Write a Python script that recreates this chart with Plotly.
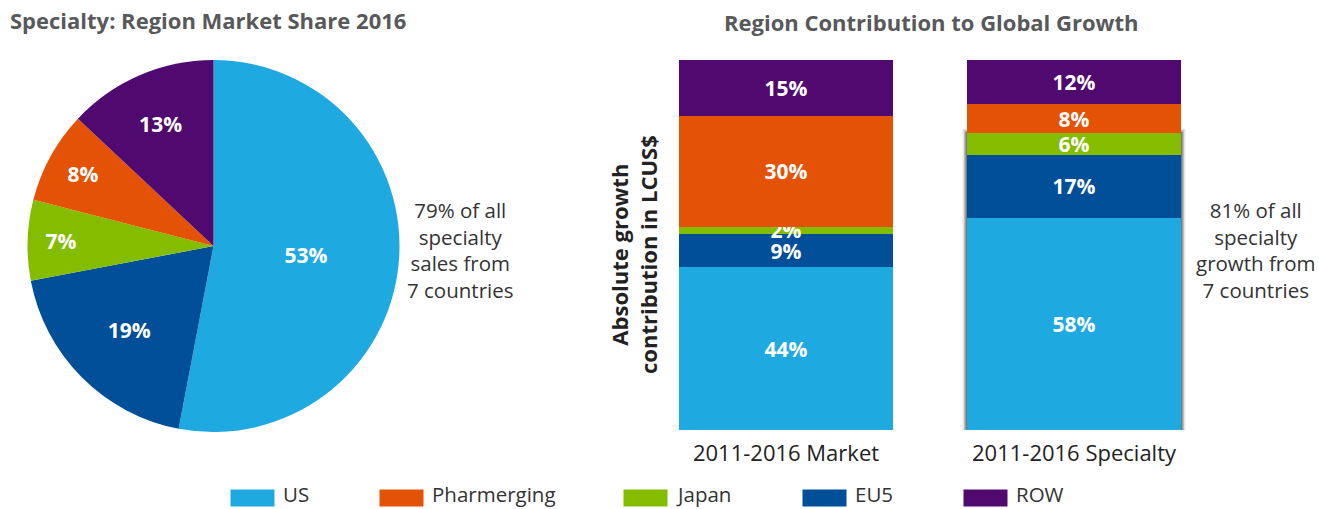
import plotly.graph_objects as go

regions = ["US", "EU5", "Japan", "Pharmerging", "ROW"]
colors = {"US": "#1FA9E1", "EU5": "#004F98", "Japan": "#84BD00",
          "Pharmerging": "#E35205", "ROW": "#500A6F"}
legend_order = ["US", "Pharmerging", "Japan", "EU5", "ROW"]

pie_share = [53, 19, 7, 8, 13]

bar_categories = ["2011-2016 Market", "2011-2016 Specialty"]
growth = {
    "US": [44, 58],
    "EU5": [9, 17],
    "Japan": [2, 6],
    "Pharmerging": [30, 8],
    "ROW": [15, 12],
}

FONT = "Open Sans"
BARGAP = 0.257
W, H = 1319, 509

# legend layout (left edge of each swatch, in page pixels)
LEGEND_SWATCH_LEFT = [230, 379, 623, 802, 963]
SWATCH_W, SWATCH_H, SWATCH_GAP = 43, 16, 9


def px(x):
    return x / W


def py(y):
    return 1 - y / H


fig = go.Figure()

fig.add_trace(go.Pie(
    labels=regions, values=pie_share,
    text=[f"{v}%" for v in pie_share], textinfo="text",
    marker=dict(colors=[colors[r] for r in regions], line=dict(width=0)),
    sort=False, direction="clockwise", rotation=0,
    insidetextorientation="horizontal",
    textfont=dict(color="white", size=21, family=FONT, weight="bold"),
    domain=dict(x=[px(27), px(400)], y=[py(432), py(60)]),
    showlegend=False, hoverinfo="label+percent",
))

for r in regions:
    fig.add_trace(go.Bar(
        x=bar_categories, y=growth[r], name=r,
        marker=dict(color=colors[r], line=dict(width=0)),
        text=[f"{v}%" for v in growth[r]], textposition="inside",
        insidetextanchor="middle", constraintext="none",
        textfont=dict(color="white", size=21, family=FONT, weight="bold"),
        showlegend=False,
    ))

# soft shadow frame around the specialty bar's top-7-country part
spec_total = sum(growth[r][1] for r in regions)
spec_top7 = sum(growth[r][1] for r in ["US", "EU5", "Japan"]) / spec_total * 100
half = (1 - BARGAP) / 2
for w, a in [(9, 0.10), (6, 0.18), (3, 0.35)]:
    fig.add_shape(type="rect", xref="x", yref="y", layer="below",
                  x0=1 - half, x1=1 + half, y0=0, y1=spec_top7,
                  line=dict(color=f"rgba(0,0,0,{a})", width=w),
                  fillcolor="rgba(0,0,0,0)")

annotations = [
    dict(text="<b>Specialty: Region Market Share 2016</b>", x=px(8), y=py(20),
         xref="paper", yref="paper", xanchor="left", yanchor="middle",
         showarrow=False, font=dict(size=22, color="#58595B", family=FONT)),
    dict(text="<b>Region Contribution to Global Growth</b>", x=px(931), y=py(22),
         xref="paper", yref="paper", xanchor="center", yanchor="middle",
         showarrow=False, font=dict(size=22, color="#58595B", family=FONT)),
    dict(text="<b>Absolute growth<br>contribution in LCUS$</b>", textangle=-90,
         x=px(633), y=py(255), xref="paper", yref="paper",
         xanchor="center", yanchor="middle", showarrow=False,
         font=dict(size=22, color="#222222", family=FONT)),
    dict(text="79% of all<br>specialty<br>sales from<br>7 countries",
         x=px(460), y=py(250), xref="paper", yref="paper",
         xanchor="center", yanchor="middle", showarrow=False,
         font=dict(size=20.5, color="#333333", family=FONT)),
    dict(text="81% of all<br>specialty<br>growth from<br>7 countries",
         x=px(1256), y=py(250), xref="paper", yref="paper",
         xanchor="center", yanchor="middle", showarrow=False,
         font=dict(size=20.5, color="#333333", family=FONT)),
]

# legend: colour swatch + label for each region
for r, left in zip(legend_order, LEGEND_SWATCH_LEFT):
    annotations.append(dict(
        text=" ", x=px(left), y=py(498), xref="paper", yref="paper",
        xanchor="left", yanchor="middle", showarrow=False,
        width=SWATCH_W, height=SWATCH_H, bgcolor=colors[r], borderpad=0,
        font=dict(size=2)))
    annotations.append(dict(
        text=r, x=px(left + SWATCH_W + SWATCH_GAP), y=py(494),
        xref="paper", yref="paper", xanchor="left", yanchor="middle",
        showarrow=False, borderpad=0,
        font=dict(size=20.5, color="#333333", family=FONT)))

fig.update_layout(
    width=W, height=H,
    margin=dict(l=0, r=0, t=0, b=0, autoexpand=False),
    paper_bgcolor="white", plot_bgcolor="white",
    barmode="stack", barnorm="percent", bargap=BARGAP,
    showlegend=False,
    font=dict(family=FONT, color="#333333"),
    xaxis=dict(domain=[px(642), px(1218)], range=[-0.5, 1.5],
               showgrid=False, zeroline=False, showline=False,
               tickfont=dict(size=22, color="#222222", family=FONT),
               ticks="", ticklabelstandoff=8, automargin=False),
    yaxis=dict(domain=[py(430), py(60)], range=[0, 100],
               showgrid=False, zeroline=False, showline=False,
               showticklabels=False, automargin=False),
    annotations=annotations,
)

fig.write_html(
    "out.html",
    config={"displayModeBar": False},
    post_script="document.body.style.margin='0';document.body.style.overflow='hidden';",
)
